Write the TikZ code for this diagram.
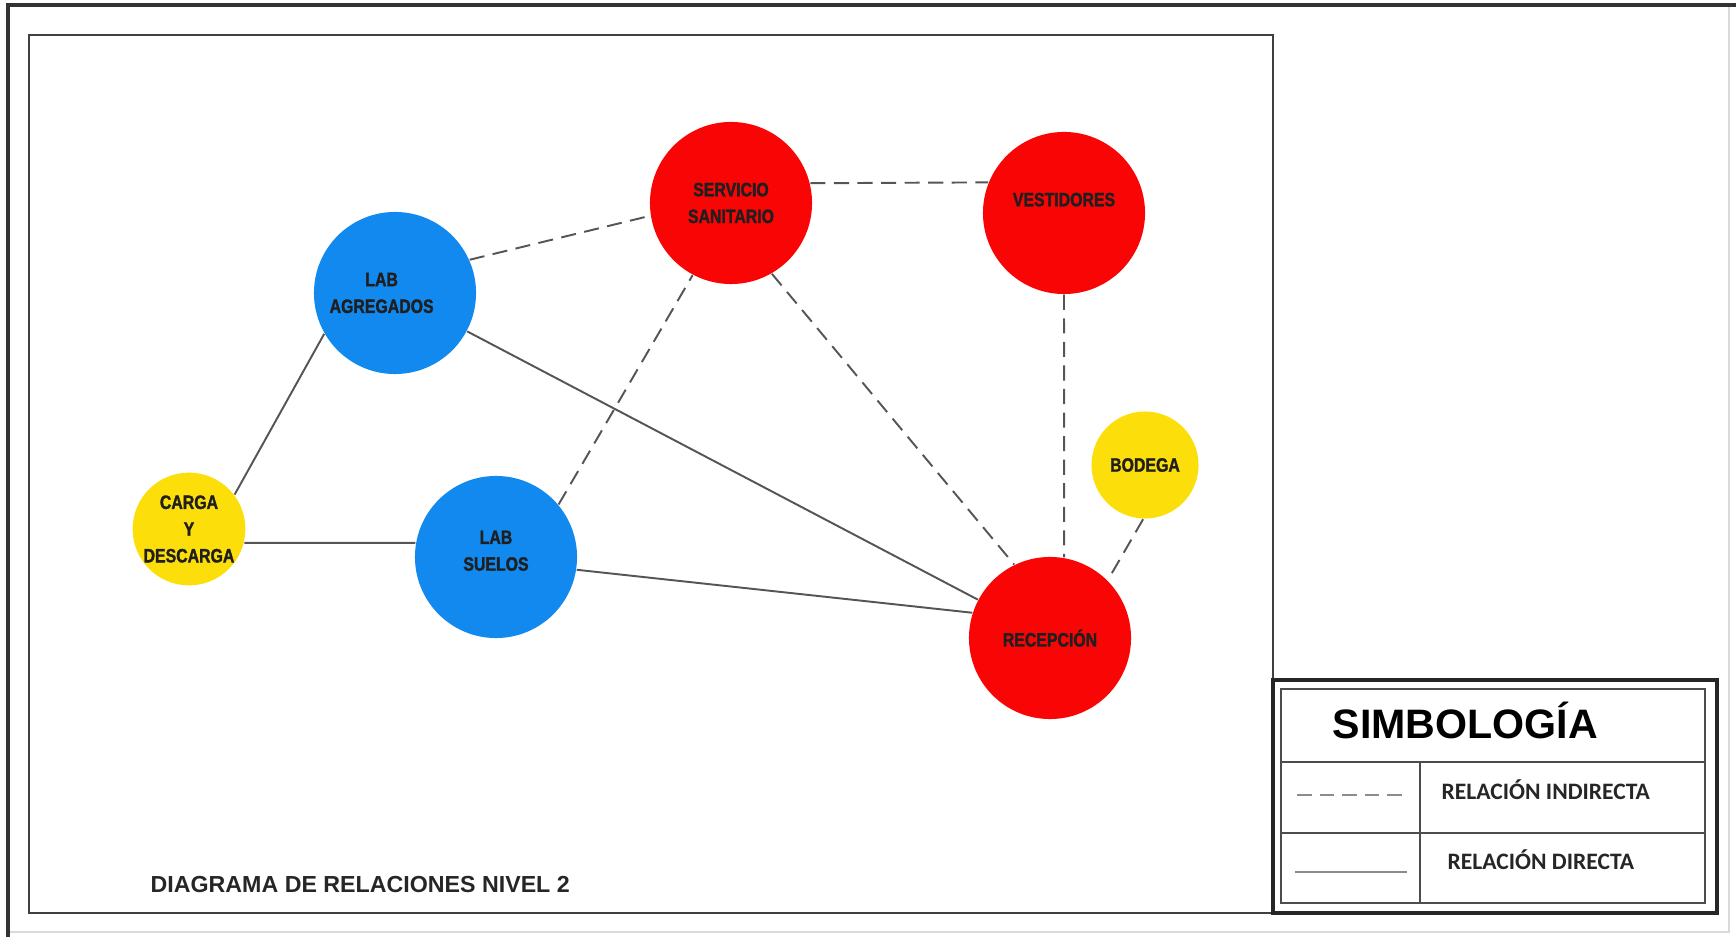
\documentclass[tikz,border=0pt]{standalone}
\usepackage{fontspec}
\setmainfont{Liberation Sans}
\newfontfamily\roomfont[FakeStretch=0.82, BoldFeatures={FakeBold=1.5}]{Liberation Sans}
\newfontfamily\legendfont{Carlito}
\definecolor{roomred}{RGB}{250,5,5}
\definecolor{roomblue}{RGB}{18,137,239}
\definecolor{roomyellow}{RGB}{252,222,10}
\definecolor{linegray}{RGB}{85,85,85}
\tikzset{
  room/.style={circle, inner sep=0pt, align=center, text=black!88,
    font=\roomfont\bfseries\fontsize{5.5}{7.6}\selectfont},
  bigroom/.style={room, minimum size=1.62cm},
  smallroom/.style={room, minimum size=1.07cm},
  direct/.style={draw=linegray, line width=0.55pt},
  indirect/.style={direct, dash pattern=on 4.3pt off 2.4pt},
  plaintext/.style={anchor=base west, inner sep=0pt},
}
\begin{document}
\begin{tikzpicture}[x=0.01cm,y=-0.01cm]
  \useasboundingbox (0,0) rectangle (1736,937);
  % frames
  \draw[black!15] (8,932) -- (1729,932) -- (1729,5);
  \draw[line width=1pt, black!80] (8,937) -- (8,5) -- (1736,5);
  \draw[line width=0.7pt, black!75] (29,35) rectangle (1273,913);
  % rooms
  \node[bigroom, fill=roomblue,
    label={[room, xshift=-3.8pt]center:LAB\\AGREGADOS}] (agregados) at (395,293) {};
  \node[bigroom, fill=roomblue]   (suelos)     at (496,557)  {LAB\\SUELOS\\[-4pt]};
  \node[smallroom, fill=roomyellow] (carga)    at (189,529)  {CARGA\\Y\\DESCARGA};
  \node[bigroom, fill=roomred]    (servicio)   at (731,203)  {SERVICIO\\SANITARIO};
  \node[bigroom, fill=roomred,
    label={[room, yshift=3.8pt]center:VESTIDORES}] (vestidores) at (1064,213) {};
  \node[smallroom, fill=roomyellow] (bodega)   at (1145,465) {BODEGA};
  \node[bigroom, fill=roomred]    (recepcion)  at (1050,638) {RECEPCIÓN};
  % relations
  \draw[direct] (carga.37) -- (agregados.210);
  \draw[direct] (carga.-14) -- (suelos.170);
  \draw[direct] (agregados.-28) -- (recepcion.152);
  \draw[direct] (suelos.-9) -- (recepcion.162);
  \draw[indirect] (agregados.24) -- (servicio.189);
  \draw[indirect] (suelos.40) -- (servicio.242);
  \draw[indirect] (servicio.14) -- (vestidores.158);
  \draw[indirect] (servicio.-60) -- (recepcion.116);
  \draw[indirect] (vestidores.south) -- (recepcion.80);
  \draw[indirect] (bodega.-92) -- (recepcion.45);
  \node[plaintext, font=\bfseries\fontsize{6.6}{8}\selectfont, black!85] (title) at (150,892) {DIAGRAMA DE RELACIONES NIVEL 2};
  % legend
  \draw[line width=0.9pt, black!85] (1273,680) rectangle (1717,913);
  \draw[line width=0.6pt, black!70] (1281,689) rectangle (1705,903);
  \draw[line width=0.6pt, black!70] (1281,762) -- (1705,762);
  \draw[line width=0.6pt, black!70] (1281,833) -- (1705,833);
  \draw[line width=0.6pt, black!70] (1420,762) -- (1420,903);
  \node[plaintext, font=\bfseries\fontsize{11.7}{14}\selectfont] (simb) at (1332,738) {SIMBOLOGÍA};
  \coordinate (ind1) at (1297,795);
  \coordinate (ind2) at (1407,795);
  \coordinate (dir1) at (1295,872);
  \coordinate (dir2) at (1407,872);
  \draw[draw=black!45, line width=0.6pt, dash pattern=on 4.2pt off 2.2pt] (ind1) -- (ind2);
  \draw[draw=black!45, line width=0.8pt] (dir1) -- (dir2);
  \node[plaintext, font=\legendfont\bfseries\fontsize{6.7}{8}\selectfont, black!85] (indtext) at (1441,799) {RELACIÓN INDIRECTA};
  \node[plaintext, font=\legendfont\bfseries\fontsize{6.7}{8}\selectfont, black!85] (dirtext) at (1447,869) {RELACIÓN DIRECTA};
\end{tikzpicture}
\end{document}
